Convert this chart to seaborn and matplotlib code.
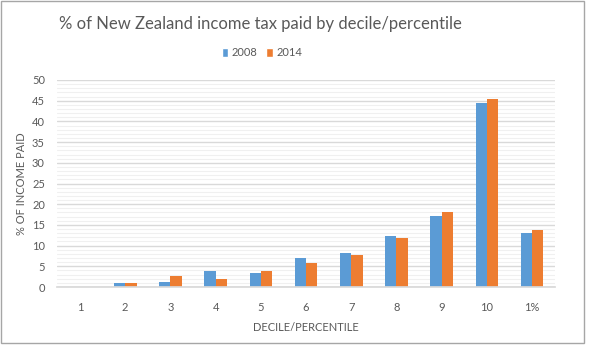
import matplotlib
matplotlib.use("Agg")
import matplotlib.pyplot as plt
import seaborn as sns
import pandas as pd
from matplotlib.patches import Rectangle, Patch
from matplotlib.ticker import MultipleLocator

categories = ["1", "2", "3", "4", "5", "6", "7", "8", "9", "10", "1%"]
values_2008 = [0.0, 1.0, 1.2, 3.9, 3.4, 7.1, 8.2, 12.2, 17.1, 44.4, 13.0]
values_2014 = [0.0, 1.0, 2.7, 1.9, 3.9, 5.7, 7.8, 11.8, 18.0, 45.4, 13.7]
series = ["2008", "2014"]
colors = ["#5B9BD5", "#ED7D31"]

df = pd.DataFrame({
    "cat": categories * 2,
    "val": values_2008 + values_2014,
    "year": [series[0]] * len(categories) + [series[1]] * len(categories),
})

sns.set_theme(style="white")
plt.rcParams["font.family"] = ["Lato", "DejaVu Sans"]

W, H = 589, 348
fig = plt.figure(figsize=(W / 100, H / 100), dpi=100)
ax = fig.add_axes([57.4 / W, 1 - 287 / H, (554.6 - 57.4) / W, (287 - 80) / H])

sns.barplot(data=df, x="cat", y="val", hue="year", order=categories,
            hue_order=series, palette=colors, width=0.5, ax=ax,
            edgecolor="none", linewidth=0, legend=False, saturation=1)

ax.set_ylim(0, 50)
ax.set_xlim(-0.5, len(categories) - 0.5)
ax.yaxis.set_major_locator(MultipleLocator(5))
ax.yaxis.set_minor_locator(MultipleLocator(1))
ax.grid(which="major", axis="y", color="#d9d9d9", linewidth=1.0)
ax.grid(which="minor", axis="y", color="#f0f0f0", linewidth=0.8)
ax.set_axisbelow(True)
for s in ["top", "right", "left"]:
    ax.spines[s].set_visible(False)
ax.spines["bottom"].set_color("#d9d9d9")
ax.tick_params(axis="both", which="both", length=0, labelsize=8,
               colors="#595959")
ax.tick_params(axis="y", pad=9)
ax.tick_params(axis="x", pad=11)
ax.set_xlabel("DECILE/PERCENTILE", fontsize=8, color="#595959", labelpad=6)
ax.set_ylabel("% OF INCOME PAID", fontsize=8, color="#595959")
ax.yaxis.set_label_coords((27 - 57.4) / (554.6 - 57.4), 0.5)

fig.text(260 / W, 1 - 24 / H, "% of New Zealand income tax paid by decile/percentile",
         ha="center", va="center", fontsize=12, color="#595959")

handles = [Patch(facecolor=c, label=s) for c, s in zip(colors, series)]
fig.legend(handles=handles, loc="center", bbox_to_anchor=(262 / W, 1 - 53 / H),
           ncol=2, frameon=False, fontsize=8, handlelength=0.6,
           handleheight=0.8, handletextpad=0.3, columnspacing=0.8,
           labelcolor="#595959")

fig.patches.append(Rectangle((1 / W, 5 / H), 583 / W, 342 / H,
                             transform=fig.transFigure, fill=False,
                             edgecolor="#a6a6a6", linewidth=1))

fig.savefig("out.png", dpi=100)
